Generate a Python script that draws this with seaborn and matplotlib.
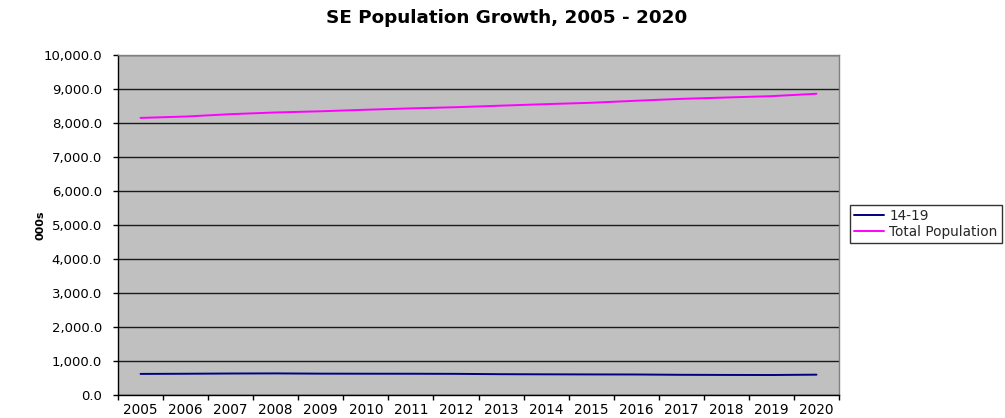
import matplotlib
matplotlib.use("Agg")
import matplotlib.pyplot as plt
import seaborn as sns
import pandas as pd
import numpy as np
from matplotlib.ticker import FuncFormatter, FixedLocator

years = [2005, 2006, 2007, 2008, 2009, 2010, 2011, 2012,
         2013, 2014, 2015, 2016, 2017, 2018, 2019, 2020]
age_14_19 = [620, 625, 632, 635, 628, 626, 625, 622,
             612, 608, 605, 603, 594, 590, 588, 598]
total_population = [8150, 8190, 8260, 8310, 8345, 8390, 8430, 8465,
                    8510, 8555, 8595, 8655, 8710, 8750, 8790, 8860]
series_names = ["14-19", "Total Population"]
series_colors = ["#000080", "#FF00FF"]

df = pd.DataFrame({
    "pos": list(range(len(years))) * 2,
    "value": age_14_19 + total_population,
    "series": [series_names[0]] * len(years) + [series_names[1]] * len(years),
})

sns.set_theme(style="white")
plt.rcParams["font.family"] = ["DejaVu Sans"]

fig = plt.figure(figsize=(10.05, 4.18), dpi=100)
W, H = 1005, 418
ax = fig.add_axes([118 / W, 1 - 395 / H, (839 - 118) / W, (395 - 55) / H])
ax.set_facecolor("#C0C0C0")

sns.lineplot(data=df, x="pos", y="value", hue="series", palette=series_colors,
             linewidth=1.4, ax=ax, legend=False, zorder=3)

ax.set_xlim(-0.5, len(years) - 0.5)
ax.set_ylim(0, 10000)

# y axis: gridlines every 1,000
yt = np.arange(0, 10001, 1000)
ax.set_yticks(yt)
ax.yaxis.set_major_formatter(FuncFormatter(lambda v, p: f"{v:,.1f}"))
ax.grid(axis="y", color="#1a1a1a", linewidth=1.0)
ax.grid(axis="x", visible=False)
ax.set_axisbelow(True)

# x axis: ticks between categories, labels at category centres
ax.xaxis.set_major_locator(FixedLocator(np.arange(-0.5, len(years), 1.0)))
ax.set_xticklabels([])
ax.set_xticks(np.arange(len(years)), minor=True)
ax.set_xticklabels([str(y) for y in years], minor=True)

ax.tick_params(axis="x", which="major", length=3.6, width=1, color="#000000",
               direction="out", bottom=True)
ax.tick_params(axis="x", which="minor", length=0, labelsize=9.8, pad=6,
               colors="#000000", bottom=True)
ax.tick_params(axis="y", length=3.6, width=1, color="#000000", direction="out",
               labelsize=9.5, pad=8, left=True, labelcolor="#000000")

for side in ["left", "bottom"]:
    ax.spines[side].set_color("#000000")
    ax.spines[side].set_linewidth(1.0)
for side in ["top", "right"]:
    ax.spines[side].set_color("#808080")
    ax.spines[side].set_linewidth(1.0)

ax.set_xlabel("")
ax.set_ylabel("000s", fontsize=8, fontweight="bold", color="#000000")
ax.yaxis.set_label_coords(-73 / (839 - 118), 0.5)

fig.suptitle("SE Population Growth, 2005 - 2020", x=507 / W,
             y=1 - 9 / H, fontsize=13.2, fontweight="bold", color="#000000", va="top")

handles = [plt.Line2D([], [], color=c, linewidth=1.4) for c in series_colors]
leg = fig.legend(handles, series_names, loc="upper left",
                 bbox_to_anchor=(850 / W, 1 - 205 / H), frameon=True,
                 fontsize=9.8, handlelength=2.2, handletextpad=0.4,
                 borderpad=0.3, labelspacing=0.15, borderaxespad=0,
                 fancybox=False)
leg.get_frame().set_edgecolor("#000000")
leg.get_frame().set_linewidth(1.0)
leg.get_frame().set_facecolor("white")

fig.savefig("out.png", dpi=100, facecolor="white")
